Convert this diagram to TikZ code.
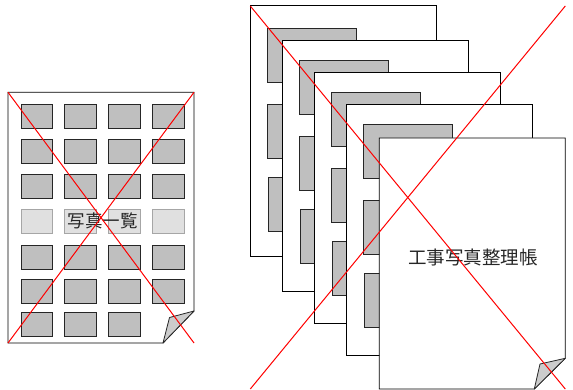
\documentclass[tikz,border=0pt]{standalone}
\usepackage{fontspec}
\newfontfamily\cjk{Noto Sans CJK JP}
\begin{document}
\begin{tikzpicture}[x=1pt,y=-1pt,
  page/.style={draw=black,line width=0.8pt,fill=white},
  photo/.style={draw=black!85,line width=0.8pt,fill=black!25},
  lightphoto/.style={draw=black!35,line width=0.8pt,fill=black!12},
  fold/.style={draw=black!85,line width=0.8pt,fill=black!20,line join=round},
  cross/.style={draw=red,line width=1pt},
  label/.style={font=\cjk\fontsize{17.5}{20}\selectfont,text=black!85,inner sep=0pt}]
\useasboundingbox (0,0) rectangle (573,390);
% ---------- left sheet ----------
\draw[page] (8,92.3) -- (194,92.3) -- (194,311) -- (163,343) -- (8,343) -- cycle;
\foreach \r/\y in {1/104.3,2/139,3/174.3,5/245,6/279.3}
  \foreach \x in {21,64.5,108.5,152.5}
    \draw[photo] (\x,\y) rectangle ++(31.5,24);
\foreach \x in {21,64.5,108.5}
  \draw[photo] (\x,312.7) rectangle ++(31.5,24);
\foreach \x in {21,64.5,108.5,152.5}
  \draw[lightphoto] (\x,209) rectangle ++(31.5,24);
\node[label] (list) at (102.5,221) {写真一覧};
\draw[fold] (194,311) -- (169.5,317.5) -- (163,343) -- cycle;
\coordinate (lTL) at (8,92.3);
\coordinate (lTR) at (194,92.3);
\coordinate (lBL) at (8,343);
\coordinate (lBR) at (194,343);
\draw[cross] (lTL) -- (lBR);
\draw[cross] (lTR) -- (lBL);
% ---------- right stack ----------
\foreach \px/\py/\rx/\ry in {250.3/5.7/267.3/28.3, 282.3/40.7/299.3/60.3, 314/72.3/331.3/92.3, 346.3/104.7/363.3/124.3}{
  \draw[page] (\px,\py) rectangle ++(186,251);
  \draw[photo] (\rx,\ry) rectangle ++(89,54);
  \draw[photo] (\rx,\ry+76) rectangle ++(89,54);
  \draw[photo] (\rx+1,\ry+149.5) rectangle ++(89,54);
}
\draw[page] (379.3,138) -- (565.3,138) -- (565.3,358.3) -- (534.3,389) -- (379.3,389) -- cycle;
\draw[fold] (565.3,358.3) -- (540,364) -- (534.3,389) -- cycle;
\node[label,font=\cjk\fontsize{18.5}{21}\selectfont] (ledger) at (473,257) {工事写真整理帳};
\coordinate (rTL) at (250.3,6);
\coordinate (rTR) at (565.3,6);
\coordinate (rBL) at (250.3,389);
\coordinate (rBR) at (565.3,389);
\draw[cross] (rTL) -- (rBR);
\draw[cross] (rTR) -- (rBL);
\end{tikzpicture}
\end{document}
